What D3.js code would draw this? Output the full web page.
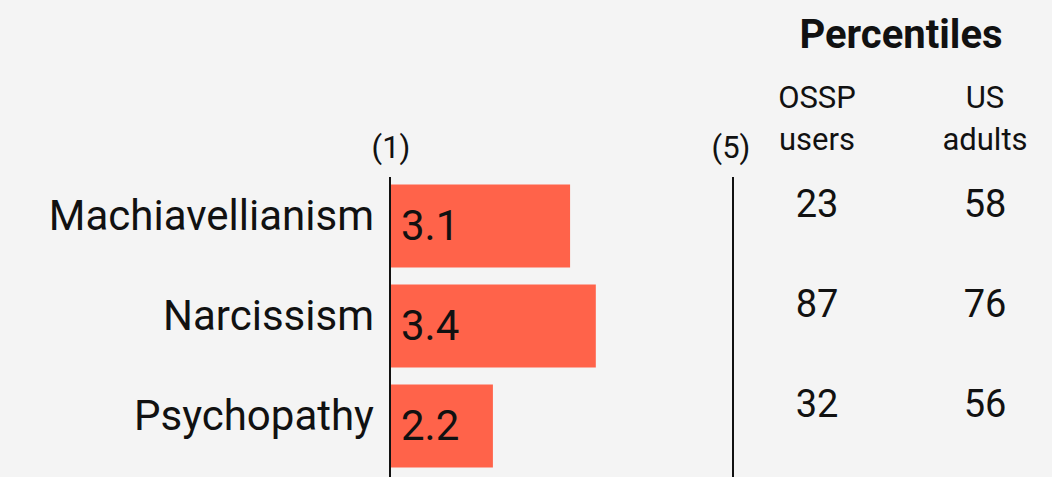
<!DOCTYPE html>
<html>
<head>
<meta charset="utf-8">
<script src="https://cdn.jsdelivr.net/npm/d3@7"></script>
<style>
  body { margin: 0; background: #f4f4f4; }
  text { font-family: Roboto, sans-serif; fill: #111; }
</style>
</head>
<body>
<div id="container"></div>
<script>
let w = 1052;
let h = 477;

// data
let traits = ["Machiavellianism", "Narcissism", "Psychopathy"];
let scores = [3.1, 3.4, 2.2];
let osspPct = [23, 87, 32];
let usPct = [58, 76, 56];
let scaleEnds = [1, 5];

let viz = d3.select("#container")
  .append("svg")
    .attr("width", w)
    .attr("height", h)
    .style("background-color", "#f4f4f4");

let xScale = d3.scaleLinear().domain(scaleEnds).range([390, 733]);
let yScale = d3.scaleBand().domain(traits).range([176, 476]).paddingInner(0.17).paddingOuter(0.085);

// bars
viz.selectAll(".bar").data(traits).enter()
  .append("rect")
    .attr("class", "bar")
    .attr("x", xScale(1))
    .attr("y", d => yScale(d))
    .attr("width", (d, i) => xScale(scores[i]) - xScale(1))
    .attr("height", yScale.bandwidth())
    .attr("fill", "#ff634a");

// value labels inside bars
viz.selectAll(".val").data(traits).enter()
  .append("text")
    .attr("x", xScale(1) + 11)
    .attr("y", d => yScale(d) + 55)
    .style("font-size", "42px")
    .text((d, i) => scores[i].toFixed(1));

// category labels
viz.selectAll(".cat").data(traits).enter()
  .append("text")
    .attr("x", 374)
    .attr("y", d => yScale(d) + 45)
    .attr("text-anchor", "end")
    .style("font-size", "42px")
    .text(d => d);

// scale end lines
viz.selectAll(".end").data(scaleEnds).enter()
  .append("line")
    .attr("x1", d => xScale(d))
    .attr("x2", d => xScale(d))
    .attr("y1", 177)
    .attr("y2", h)
    .attr("stroke", "#111")
    .attr("stroke-width", 2);

viz.selectAll(".endlab").data(scaleEnds).enter()
  .append("text")
    .attr("x", (d, i) => xScale(d) + (i == 0 ? 1 : -2))
    .attr("y", 158)
    .attr("text-anchor", "middle")
    .style("font-size", "31px")
    .text(d => "(" + d + ")");

// percentiles table
viz.append("text")
  .attr("x", 901)
  .attr("y", 48)
  .attr("text-anchor", "middle")
  .style("font-size", "40px")
  .style("font-weight", "bold")
  .text("Percentiles");

let cols = [
  { x: 817, head: ["OSSP", "users"], vals: osspPct },
  { x: 985, head: ["US", "adults"], vals: usPct }
];

cols.forEach(c => {
  c.head.forEach((t, j) => {
    viz.append("text")
      .attr("x", c.x)
      .attr("y", 108 + j * 42)
      .attr("text-anchor", "middle")
      .style("font-size", "31px")
      .text(t);
  });
  viz.selectAll(null).data(traits).enter()
    .append("text")
      .attr("x", c.x)
      .attr("y", d => yScale(d) + 32)
      .attr("text-anchor", "middle")
      .style("font-size", "38px")
      .text((d, i) => c.vals[i]);
});
</script>
</body>
</html>
